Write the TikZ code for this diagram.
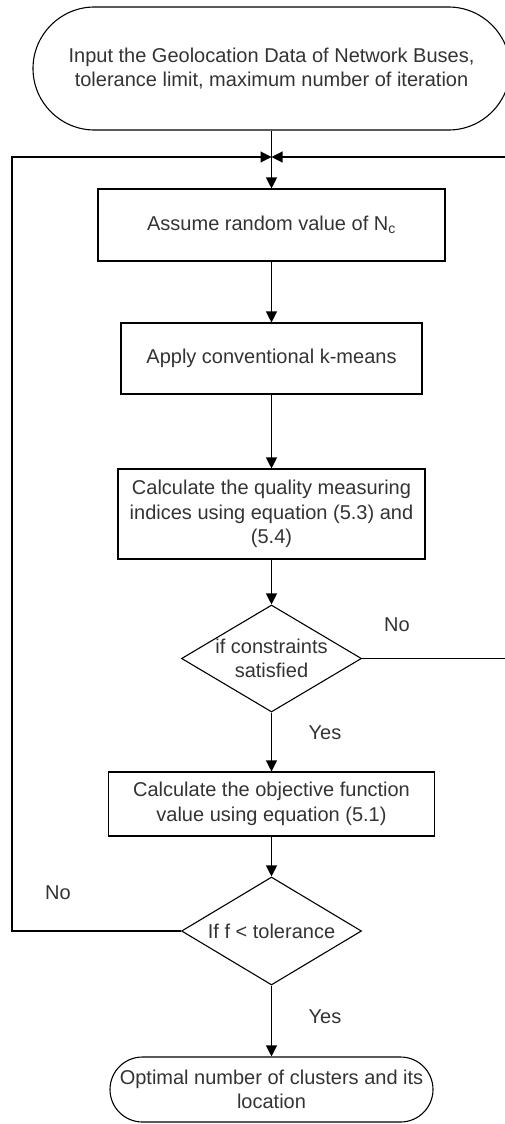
\documentclass[tikz,border=0pt]{standalone}
\usepackage{fontspec}
\setmainfont{Liberation Sans}
\usetikzlibrary{shapes.misc,shapes.geometric,arrows.meta}
\begin{document}
\begin{tikzpicture}[x=1pt,y=-1pt,
  every node/.style={font=\fontsize{20}{24.5}\selectfont, text=black!80},
  line/.style={draw=black, line width=1.1pt},
  arr/.style={line, -{Triangle[length=11pt,width=11pt]}},
  term/.style={rounded rectangle, draw=black, line width=1.1pt, align=center, inner sep=0pt},
  procbox/.style={rectangle, draw=black, line width=1.1pt, align=center, inner sep=0pt},
  dia/.style={diamond, draw=black, line width=1.1pt, inner sep=0pt},
  dtext/.style={align=center, inner sep=0pt}]
\clip (0,0) rectangle (505,1124);
% nodes
\node[term, minimum width=477pt, minimum height=123pt] (start) at (271.5,68.5)
  {Input the Geolocation Data of Network Buses,\\tolerance limit, maximum number of iteration};
\coordinate (j) at (271.5,157);
\node[procbox, minimum width=347pt, minimum height=72pt] (b1) at (271.5,225)
  {Assume random value of N\textsubscript{c}};
\node[procbox, minimum width=301pt, minimum height=71pt] (b2) at (271.5,358.5)
  {Apply conventional k-means};
\node[procbox, minimum width=307pt, minimum height=90pt] (b3) at (271.5,514)
  {Calculate the quality measuring\\indices using equation (5.3) and\\(5.4)};
\node[dia, minimum width=180pt, minimum height=107pt] (d1) at (271.5,658.5) {};
\node[dtext] (d1t) at (d1.center) {if constraints\\satisfied};
\node[procbox, minimum width=326pt, minimum height=64pt] (b4) at (271.5,804)
  {Calculate the objective function\\value using equation (5.1)};
\node[dia, minimum width=180pt, minimum height=108pt] (d2) at (271.5,931) {};
\node[dtext] (d2t) at (d2.center) {If f < tolerance};
\node[term, minimum width=323pt, minimum height=65pt] (end) at (271.5,1089.5)
  {Optimal number of clusters and its\\location};
% loop corners
\coordinate (rc) at (512,658.5);
\coordinate (lc) at (12,931);
% connectors
\draw[arr] (start.south) -- (b1.north);
\draw[arr] (b1.south) -- (b2.north);
\draw[arr] (b2.south) -- (b3.north);
\draw[arr] (b3.south) -- (d1.north);
\draw[arr] (d1.south) -- (b4.north);
\draw[arr] (b4.south) -- (d2.north);
\draw[arr] (d2.south) -- (end.north);
\draw[arr] (d1.east) -- (rc) |- (j);
\draw[arr] (d2.west) -- (lc) |- (j);
% labels
\node (no1) at (397,625) {No};
\node (yes1) at (325,733) {Yes};
\node (no2) at (58,893) {No};
\node (yes2) at (325,1017) {Yes};
\end{tikzpicture}
\end{document}
